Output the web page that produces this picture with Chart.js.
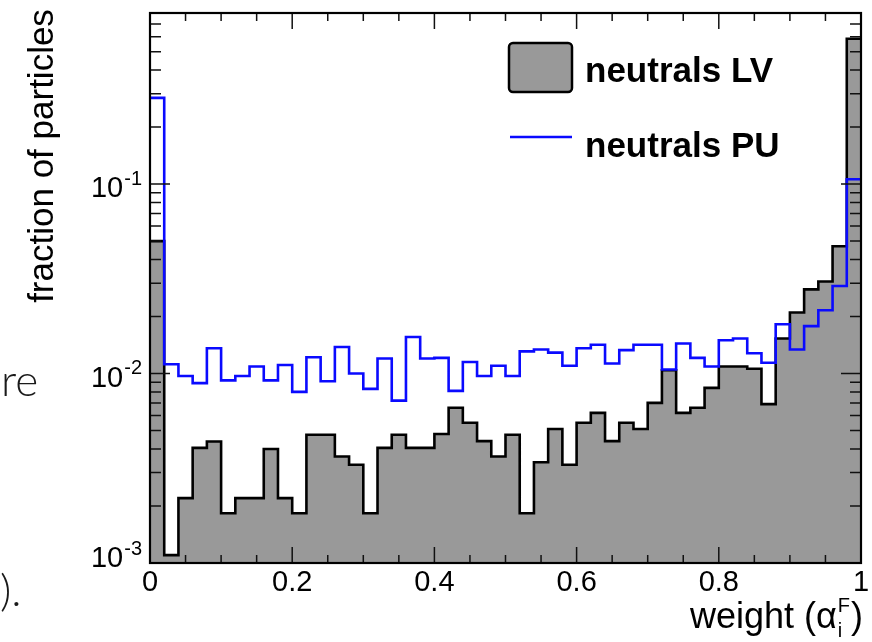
<!DOCTYPE html>
<html>
<head>
<meta charset="utf-8">
<title>neutral particle weights</title>
<script src="https://cdn.jsdelivr.net/npm/chart.js@4.4.0/dist/chart.umd.min.js"></script>
<style>
    html, body { margin: 0; padding: 0; background: #ffffff; }
    #wrap { position: relative; width: 872px; height: 642px; }
</style>
</head>
<body>
<div id="wrap"><canvas id="weights-chart" width="872" height="642"></canvas></div>
<script>
// bin edges: lower edge of each of the 50 bins, then the upper edge of the last one
const binEdges = [0, 0.02, 0.04, 0.06, 0.08, 0.1, 0.12, 0.14, 0.16, 0.18,
    0.2, 0.22, 0.24, 0.26, 0.28, 0.3, 0.32, 0.34, 0.36, 0.38,
    0.4, 0.42, 0.44, 0.46, 0.48, 0.5, 0.52, 0.54, 0.56, 0.58,
    0.6, 0.62, 0.64, 0.66, 0.68, 0.7, 0.72, 0.74, 0.76, 0.78,
    0.8, 0.82, 0.84, 0.86, 0.88, 0.9, 0.92, 0.94, 0.96, 0.98, 1];

// fraction of particles per bin
const neutralsLV = [0.05, 0.0011, 0.0022, 0.00405, 0.00438, 0.00183, 0.0022, 0.0022, 0.004, 0.0022,
    0.00183, 0.00475, 0.00475, 0.00365, 0.0033, 0.00183, 0.00405, 0.00475, 0.00405, 0.00405,
    0.0048, 0.0066, 0.0055, 0.0044, 0.00365, 0.00475, 0.00183, 0.0034, 0.0051, 0.0033,
    0.0055, 0.0062, 0.0044, 0.0055, 0.0051, 0.007, 0.0104, 0.0062, 0.0066, 0.0084,
    0.0109, 0.0109, 0.0106, 0.0069, 0.0153, 0.021, 0.0278, 0.0306, 0.047, 0.585];

const neutralsPU = [0.285, 0.0112, 0.0097, 0.0089, 0.0136, 0.0092, 0.0097, 0.0109, 0.0092, 0.0111,
    0.008, 0.0122, 0.0091, 0.0138, 0.01, 0.0083, 0.012, 0.0072, 0.0156, 0.012,
    0.0121, 0.0081, 0.0115, 0.0097, 0.011, 0.0097, 0.0131, 0.0134, 0.0129, 0.011,
    0.0136, 0.0142, 0.0113, 0.0133, 0.0142, 0.0142, 0.0105, 0.0144, 0.0121, 0.0109,
    0.015, 0.0153, 0.0128, 0.0114, 0.0182, 0.0134, 0.0178, 0.0216, 0.029, 0.106];

// axis ticks
const xMajorTicks = [0, 0.2, 0.4, 0.6, 0.8, 1];
const xTickLabels = ['0', '0.2', '0.4', '0.6', '0.8', '1'];
const xMinorTicks = [0.05, 0.1, 0.15, 0.25, 0.3, 0.35, 0.45, 0.5, 0.55,
    0.65, 0.7, 0.75, 0.85, 0.9, 0.95];
const yMajorTicks = [0.001, 0.01, 0.1];
const yTickExponents = ['-3', '-2', '-1'];
const yMinorTicks = [0.002, 0.003, 0.004, 0.005, 0.006, 0.007, 0.008, 0.009,
    0.02, 0.03, 0.04, 0.05, 0.06, 0.07, 0.08, 0.09,
    0.2, 0.3, 0.4, 0.5, 0.6, 0.7, 0.8];

const FONT = "'Liberation Sans', Arial, Helvetica, sans-serif";

// histogram as step points: value of bin i holds from edge i to edge i+1
function toSteps(values) {
    return binEdges.map((x, i) => ({ x: x, y: values[Math.min(i, values.length - 1)] }));
}

// ROOT-like frame: inward ticks on all four sides, labels, titles, legend
const rootFrame = {
    id: 'rootFrame',
    afterDatasetsDraw(chart) {
        const { ctx, chartArea: area, scales: { x, y } } = chart;
        ctx.save();
        ctx.strokeStyle = '#111';
        ctx.lineWidth = 1.5;
        ctx.beginPath();
        const xTick = (v, len) => {
            const px = x.getPixelForValue(v);
            ctx.moveTo(px, area.bottom); ctx.lineTo(px, area.bottom - len);
            ctx.moveTo(px, area.top); ctx.lineTo(px, area.top + len);
        };
        const yTick = (v, len) => {
            const py = y.getPixelForValue(v);
            ctx.moveTo(area.left, py); ctx.lineTo(area.left + len, py);
            ctx.moveTo(area.right, py); ctx.lineTo(area.right - len, py);
        };
        xMajorTicks.forEach(v => xTick(v, 16));
        xMinorTicks.forEach(v => xTick(v, 8));
        yMajorTicks.forEach(v => yTick(v, 20));
        yMinorTicks.forEach(v => yTick(v, 11));
        ctx.stroke();

        ctx.lineWidth = 2.2;
        ctx.strokeStyle = '#000';
        ctx.strokeRect(area.left, area.top, area.right - area.left, area.bottom - area.top);

        // x tick labels
        ctx.fillStyle = '#000';
        ctx.font = '29px ' + FONT;
        ctx.textAlign = 'center';
        ctx.textBaseline = 'alphabetic';
        xMajorTicks.forEach((v, i) => {
            ctx.fillText(xTickLabels[i], x.getPixelForValue(v), 591);
        });

        // y tick labels 10^n
        ctx.textAlign = 'left';
        ctx.textBaseline = 'middle';
        yMajorTicks.forEach((v, i) => {
            const py = y.getPixelForValue(v) + (i === 0 ? -4 : 5);
            ctx.font = '20px ' + FONT;
            const ew = ctx.measureText(yTickExponents[i]).width;
            ctx.font = '29px ' + FONT;
            const bw = ctx.measureText('10').width;
            const x0 = 141 - ew - bw;
            ctx.fillText('10', x0, py);
            ctx.font = '20px ' + FONT;
            ctx.fillText(yTickExponents[i], x0 + bw + 1, py - 10);
        });

        // y axis title
        ctx.save();
        ctx.translate(43, 156);
        ctx.rotate(-Math.PI / 2);
        ctx.font = '35px ' + FONT;
        ctx.textAlign = 'center';
        ctx.textBaseline = 'middle';
        ctx.fillText('fraction of particles', 0, 0);
        ctx.restore();

        // x axis title: weight (alpha_i^F)
        ctx.textBaseline = 'alphabetic';
        ctx.textAlign = 'left';
        ctx.font = '36px ' + FONT;
        const partA = 'weight (\u03b1';
        const wA = ctx.measureText(partA).width;
        const wP = ctx.measureText(')').width;
        ctx.font = '20px ' + FONT;
        const wS = Math.max(ctx.measureText('F').width, ctx.measureText('i').width);
        let tx = 863 - wA - wS - wP - 2;
        ctx.font = '36px ' + FONT;
        ctx.fillText(partA, tx, 628);
        tx += wA + 1;
        ctx.font = '20px ' + FONT;
        ctx.fillText('F', tx, 612);
        ctx.fillText('i', tx, 637);
        tx += wS + 1;
        ctx.font = '36px ' + FONT;
        ctx.fillText(')', tx, 628);

        // legend
        ctx.fillStyle = '#999999';
        ctx.strokeStyle = '#000';
        ctx.lineWidth = 2.5;
        ctx.beginPath();
        ctx.roundRect(509, 43, 63, 49, 4);
        ctx.fill();
        ctx.stroke();
        ctx.strokeStyle = '#0a0aff';
        ctx.lineWidth = 2.6;
        ctx.beginPath();
        ctx.moveTo(510, 137);
        ctx.lineTo(572, 137);
        ctx.stroke();
        ctx.fillStyle = '#000';
        ctx.font = 'bold 35px ' + FONT;
        ctx.fillText('neutrals LV', 585, 82);
        ctx.fillText('neutrals PU', 585, 157);

        // fragments of the surrounding page text, cut by the left edge
        ctx.fillStyle = '#1a1a1a';
        ctx.font = '300 44px Lato, ' + FONT;
        ctx.fillText('re', 1, 396);
        ctx.fillText(').', 0, 606);
        ctx.restore();
    }
};

const chart = new Chart(document.getElementById('weights-chart'), {
    type: 'line',
    data: {
        datasets: [{
            label: 'neutrals PU',
            data: toSteps(neutralsPU),
            stepped: 'before',
            borderColor: '#0a0aff',
            borderWidth: 2.6,
            pointRadius: 0,
            fill: false,
            order: 0
        }, {
            label: 'neutrals LV',
            data: toSteps(neutralsLV),
            stepped: 'before',
            borderColor: '#000000',
            backgroundColor: '#999999',
            borderWidth: 2.6,
            pointRadius: 0,
            fill: 'start',
            order: 1
        }]
    },
    options: {
        responsive: false,
        animation: false,
        devicePixelRatio: 1,
        layout: {
            padding: { left: 150, right: 11, top: 13, bottom: 79 }
        },
        plugins: {
            legend: { display: false },
            tooltip: { enabled: false }
        },
        scales: {
            x: { type: 'linear', min: 0, max: 1, display: false },
            y: { type: 'logarithmic', min: 0.001, max: 0.8, display: false }
        }
    },
    plugins: [rootFrame]
});
</script>
</body>
</html>
